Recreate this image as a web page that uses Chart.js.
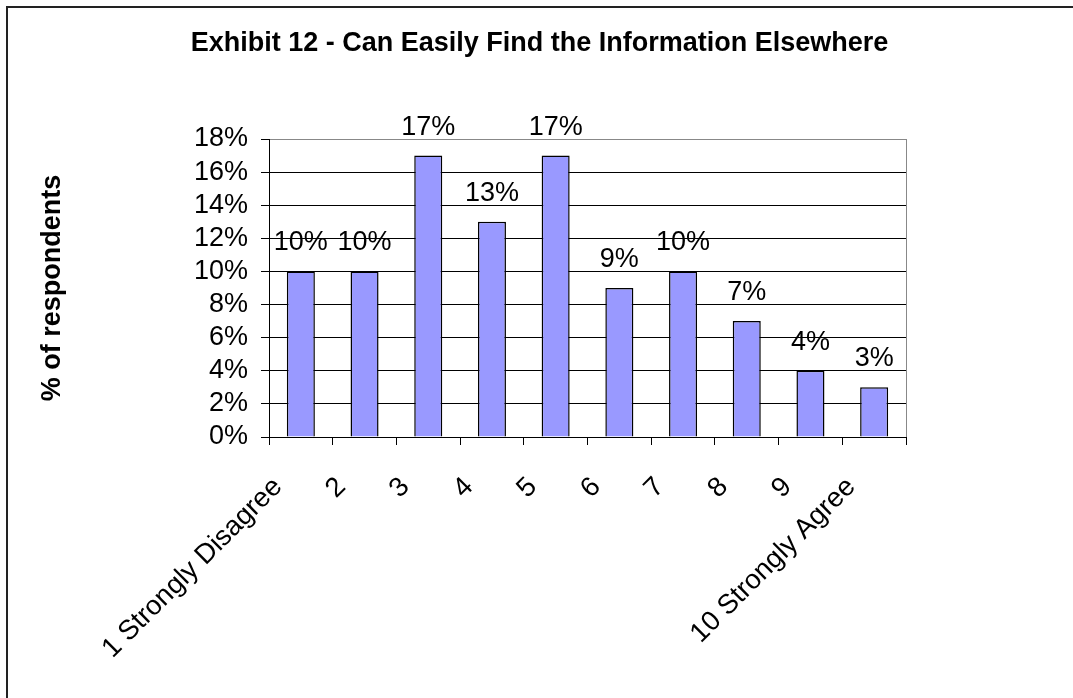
<!DOCTYPE html>
<html>
<head>
<meta charset="utf-8">
<script src="https://cdn.jsdelivr.net/npm/chart.js@4/dist/chart.umd.min.js"></script>
<style>
  html, body { margin: 0; padding: 0; background: #fff; }
  canvas { display: block; }
</style>
</head>
<body>
<canvas id="c" width="1073" height="698"></canvas>
<script>
// Survey responses: "Can easily find the information elsewhere"
const categories = ['1 Strongly Disagree', '2', '3', '4', '5', '6', '7', '8', '9', '10 Strongly Agree'];
const percentRespondents = [10, 10, 17, 13, 17, 9, 10, 7, 4, 3];
const chartTitle = 'Exhibit 12 - Can Easily Find the Information Elsewhere';
const yAxisTitle = '% of respondents';

const FONT = "'Liberation Sans', Arial, sans-serif";

// Outer frame and heading
const framePlugin = {
  id: 'frame',
  beforeDraw(chart) {
    const ctx = chart.ctx;
    ctx.save();
    ctx.fillStyle = '#fff';
    ctx.fillRect(0, 0, chart.width, chart.height);
    ctx.strokeStyle = '#222';
    ctx.lineWidth = 2;
    ctx.strokeRect(7, 7, chart.width + 50, chart.height + 50);
    ctx.fillStyle = '#000';
    ctx.font = 'bold 27px ' + FONT;
    ctx.textAlign = 'center';
    ctx.textBaseline = 'middle';
    ctx.fillText(chartTitle, 539.5, 43.6);
    ctx.restore();
  }
};

// Value labels above each bar
const valueLabels = {
  id: 'valueLabels',
  afterDatasetsDraw(chart) {
    const ctx = chart.ctx;
    const meta = chart.getDatasetMeta(0);
    ctx.save();
    ctx.fillStyle = '#000';
    ctx.font = '27px ' + FONT;
    ctx.textAlign = 'center';
    ctx.textBaseline = 'alphabetic';
    meta.data.forEach((bar, i) => {
      ctx.fillText(percentRespondents[i] + '%', bar.x, bar.y - 21);
    });
    ctx.restore();
  }
};

new Chart(document.getElementById('c'), {
  type: 'bar',
  data: {
    labels: categories,
    datasets: [{
      data: percentRespondents,
      backgroundColor: '#9999FF',
      borderColor: '#000',
      borderWidth: 1.5,
      barPercentage: 0.44,
      categoryPercentage: 1.0
    }]
  },
  options: {
    responsive: false,
    animation: false,
    layout: { padding: { top: 139, right: 167, bottom: 0, left: 0 } },
    plugins: {
      legend: { display: false },
      title: { display: false },
      tooltip: { enabled: false }
    },
    scales: {
      x: {
        offset: true,
        grid: {
          offset: true,
          drawOnChartArea: true,
          tickLength: 8,
          tickColor: '#000',
          color: (c) => c.type === 'tick' ? 'rgba(0,0,0,0)' : '#888'
        },
        border: { color: '#000', width: 1 },
        ticks: {
          color: '#000',
          font: { family: FONT, size: 27.5 },
          minRotation: 45,
          maxRotation: 45,
          autoSkip: false,
          padding: 26,
          labelOffset: -23
        },
        afterFit(scale) { scale.height = 261; }
      },
      y: {
        min: 0,
        max: 18,
        ticks: {
          stepSize: 2,
          autoSkip: false,
          color: '#000',
          font: { family: FONT, size: 27 },
          padding: 13,
          callback: (v) => v + '%'
        },
        grid: {
          tickLength: 8,
          tickColor: '#000',
          color: (c) => (c.tick && c.tick.value === 18) ? '#888' : '#000'
        },
        border: { color: '#000', width: 1 },
        title: {
          display: true,
          text: yAxisTitle,
          color: '#000',
          font: { family: FONT, size: 27, weight: 'bold' },
          padding: { top: 36.4, bottom: 0 }
        },
        afterFit(scale) { scale.width = 269; }
      }
    }
  },
  plugins: [framePlugin, valueLabels]
});
</script>
</body>
</html>
